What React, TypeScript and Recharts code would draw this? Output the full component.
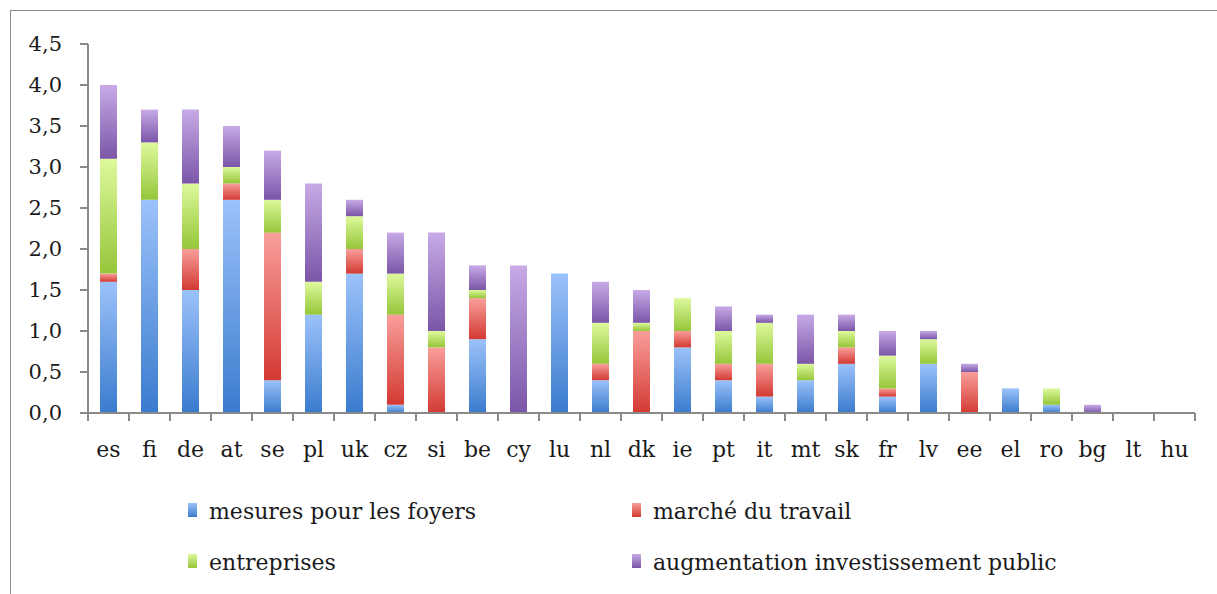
import React from 'react';
import { BarChart, Bar, XAxis, YAxis } from 'recharts';

const categories = ['es','fi','de','at','se','pl','uk','cz','si','be','cy','lu','nl','dk','ie','pt','it','mt','sk','fr','lv','ee','el','ro','bg','lt','hu'];
const mesures =     [1.6,2.6,1.5,2.6,0.4,1.2,1.7,0.1,0,  0.9,0,  1.7,0.4,0,  0.8,0.4,0.2,0.4,0.6,0.2,0.6,0,  0.3,0.1,0,  0,0];
const marche =      [0.1,0,  0.5,0.2,1.8,0,  0.3,1.1,0.8,0.5,0,  0,  0.2,1.0,0.2,0.2,0.4,0,  0.2,0.1,0,  0.5,0,  0,  0,  0,0];
const entreprises = [1.4,0.7,0.8,0.2,0.4,0.4,0.4,0.5,0.2,0.1,0,  0,  0.5,0.1,0.4,0.4,0.5,0.2,0.2,0.4,0.3,0,  0,  0.2,0,  0,0];
const investissement = [0.9,0.4,0.9,0.5,0.6,1.2,0.2,0.5,1.2,0.3,1.8,0,0.5,0.4,0,  0.3,0.1,0.6,0.2,0.3,0.1,0.1,0,  0,  0.1,0,0];
const yTicks = [0, 0.5, 1, 1.5, 2, 2.5, 3, 3.5, 4, 4.5];

const series = [
  { key: 'mesures', name: 'mesures pour les foyers', top: '#9cc2fa', bottom: '#3a7bcd' },
  { key: 'marche', name: 'marché du travail', top: '#f99e9a', bottom: '#d33a33' },
  { key: 'entreprises', name: 'entreprises', top: '#def99c', bottom: '#95c63a' },
  { key: 'investissement', name: 'augmentation investissement public', top: '#c7aae6', bottom: '#7b56a8' },
];

const data = categories.map((c, i) => ({
  cat: c,
  mesures: mesures[i],
  marche: marche[i],
  entreprises: entreprises[i],
  investissement: investissement[i],
}));

const W = 1217;
const H = 594;
const LEFT = 88;
const RIGHT = 22;
const TOP = 44;
const AXIS_Y = 413;
const FONT = '"DejaVu Serif", serif';
const AXIS_COLOR = '#8a8a8a';
const BAND = (W - LEFT - RIGHT) / categories.length;

const XTick = (props: any) => {
  const { x, y, payload, index } = props;
  const ay = y - 8;
  return (
    <g>
      <line x1={x - BAND / 2} x2={x - BAND / 2} y1={ay} y2={ay + 8} stroke={AXIS_COLOR} strokeWidth={2} />
      {index === categories.length - 1 && (
        <line x1={x + BAND / 2} x2={x + BAND / 2} y1={ay} y2={ay + 8} stroke={AXIS_COLOR} strokeWidth={2} />
      )}
      <text x={x} y={ay + 44} textAnchor="middle" fontSize={22} fontFamily={FONT} fill="#1a1a1a">
        {payload.value}
      </text>
    </g>
  );
};

export default function App() {
  return (
    <div style={{ position: 'absolute', left: 0, top: 0, width: W, height: H, background: '#fff', overflow: 'hidden' }}>
      <div style={{ position: 'absolute', left: 10, top: 10, width: W + 20, height: H + 20, border: '1.5px solid #8c8c8c', boxSizing: 'border-box' }} />
      <div style={{ position: 'absolute', left: 0, top: 0 }}>
        <BarChart width={W} height={H} data={data} margin={{ top: TOP, right: RIGHT, left: 0, bottom: H - AXIS_Y - 50 }} barSize={17}>
          <defs>
            {series.map((s) => (
              <linearGradient key={s.key} id={`grad-${s.key}`} x1="0" y1="0" x2="0" y2="1">
                <stop offset="0%" stopColor={s.top} />
                <stop offset="100%" stopColor={s.bottom} />
              </linearGradient>
            ))}
          </defs>
          <XAxis
            dataKey="cat"
            height={50}
            interval={0}
            tickLine={false}
            tickSize={8}
            tickMargin={0}
            axisLine={{ stroke: AXIS_COLOR, strokeWidth: 2 }}
            tick={<XTick />}
          />
          <YAxis
            width={LEFT}
            domain={[0, 4.5]}
            ticks={yTicks}
            interval={0}
            tickSize={8}
            tickMargin={18}
            axisLine={{ stroke: AXIS_COLOR, strokeWidth: 2 }}
            tickLine={{ stroke: AXIS_COLOR, strokeWidth: 2 }}
            tickFormatter={(v: number) => v.toFixed(1).replace('.', ',')}
            tick={{ fontSize: 21, fontFamily: FONT, fill: '#1a1a1a' }}
          />
          {series.map((s) => (
            <Bar
              key={s.key}
              dataKey={s.key}
              name={s.name}
              stackId="a"
              fill={`url(#grad-${s.key})`}
              isAnimationActive={false}
            />
          ))}
        </BarChart>
      </div>
      {series.map((s, i) => {
        const col = i % 2;
        const row = Math.floor(i / 2);
        const left = col === 0 ? 188 : 632;
        const top = row === 0 ? 511 : 562;
        return (
          <div key={s.key} style={{ position: 'absolute', left, top: top - 15, height: 30, display: 'flex', alignItems: 'center', fontFamily: FONT, fontSize: 22, color: '#1a1a1a', whiteSpace: 'nowrap' }}>
            <span style={{ display: 'inline-block', width: 9, height: 14, marginRight: 12, marginTop: -2, background: `linear-gradient(${s.top}, ${s.bottom})` }} />
            {s.name}
          </div>
        );
      })}
    </div>
  );
}
